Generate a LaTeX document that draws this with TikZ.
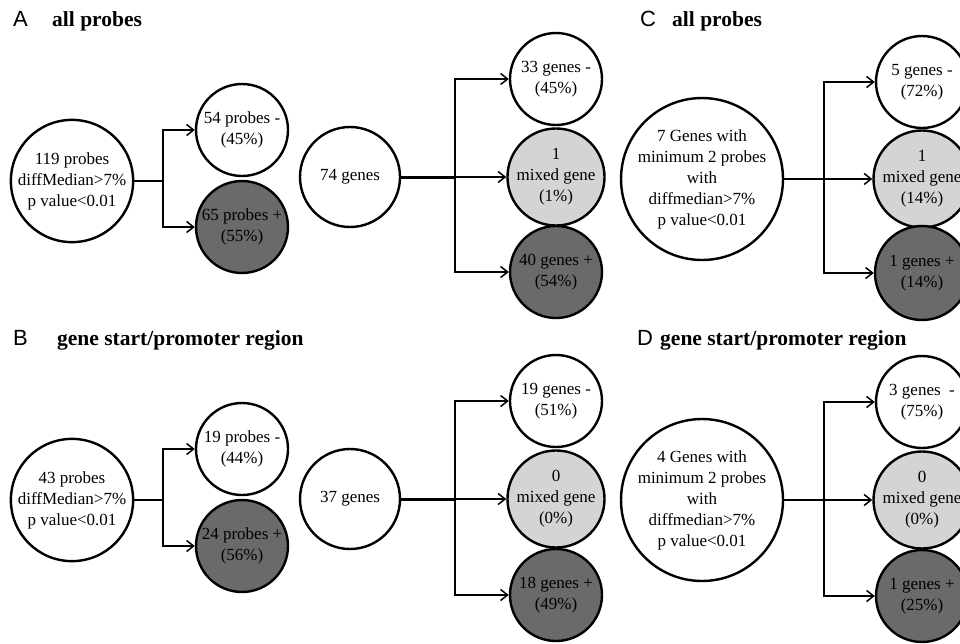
\documentclass[tikz,border=0pt]{standalone}
\usepackage{fontspec}
\setmainfont{Liberation Serif}
\newfontfamily\labfont{Liberation Sans}
\usetikzlibrary{arrows.meta}
\definecolor{darkfill}{RGB}{106,106,106}
\definecolor{lightfill}{RGB}{212,212,212}
\begin{document}
\begin{tikzpicture}[x=1pt,y=-1pt,
 bub/.style={circle,draw=black,line width=2.4pt,inner sep=0pt,align=center,font=\fontsize{17}{21}\selectfont},
 negbub/.style={bub,fill=white,minimum size=92pt},
 mixbub/.style={bub,fill=lightfill,minimum size=92pt},
 posbub/.style={bub,fill=darkfill,minimum size=92pt},
 conn/.style={line width=1.5pt},
 thickconn/.style={line width=3pt},
 arr/.style={line width=1.5pt,-{Straight Barb[length=7pt,width=11pt]}},
 panel/.style={font=\labfont\fontsize{22}{26}\selectfont,anchor=base west,inner sep=0pt},
 ttl/.style={font=\fontsize{21.5}{26}\selectfont\bfseries,anchor=base west,inner sep=0pt}]
\useasboundingbox (0,0) rectangle (960,643);

% ---------- Panel A ----------
\node[panel] (LA) at (13,26) {A};
\node[ttl] (TA) at (52,26) {all probes};
\node[bub,fill=white,minimum size=113pt] (a0) at (72,181) {119 probes\\diffMedian>7\%\\p value<0.01};
\node[negbub] (a1) at (242,130) {54 probes -\\(45\%)};
\node[posbub] (a2) at (242,227) {65 probes +\\(55\%)};
\coordinate (ja) at (163,181);
\draw[conn] (a0) -- (ja);
\draw[arr] (ja) |- (a1);
\draw[arr] (ja) |- (a2);

\node[bub,fill=white,minimum size=100pt] (g0) at (350,177) {74 genes};
\node[negbub] (g1) at (556,79) {33 genes -\\(45\%)};
\node[mixbub] (g2) at (556,177) {1\\mixed gene\\(1\%)};
\node[posbub] (g3) at (556,272) {40 genes +\\(54\%)};
\coordinate (jg) at (455,177);
\draw[thickconn] (g0) -- (jg);
\draw[arr] (jg) |- (g1);
\draw[arr] (jg) -- (g2);
\draw[arr] (jg) |- (g3);

% ---------- Panel C ----------
\node[panel] (LC) at (640,26) {C};
\node[ttl] (TC) at (672,26) {all probes};
\node[bub,fill=white,minimum size=138pt] (c0) at (702,179) {7 Genes with\\minimum 2 probes\\with\\diffmedian>7\%\\p value<0.01};
\node[negbub] (c1) at (922,82) {5 genes -\\(72\%)};
\node[mixbub] (c2) at (922,179) {1\\mixed gene\\(14\%)};
\node[posbub,minimum size=94pt] (c3) at (922,273) {1 genes +\\(14\%)};
\coordinate (jc) at (824,179);
\draw[thickconn,line width=2pt] (c0) -- (jc);
\draw[arr] (jc) |- (c1);
\draw[arr] (jc) -- (c2);
\draw[arr] (jc) |- (c3);

% ---------- Panel B ----------
\node[panel] (LB) at (13,345) {B};
\node[ttl] (TB) at (57,345) {gene start/promoter region};
\node[bub,fill=white,minimum size=113pt] (b0) at (72,500) {43 probes\\diffMedian>7\%\\p value<0.01};
\node[negbub] (b1) at (242,449) {19 probes -\\(44\%)};
\node[posbub] (b2) at (242,546) {24 probes +\\(56\%)};
\coordinate (jb) at (163,500);
\draw[conn] (b0) -- (jb);
\draw[arr] (jb) |- (b1);
\draw[arr] (jb) |- (b2);

\node[bub,fill=white,minimum size=100pt] (h0) at (350,499) {37 genes};
\node[negbub] (h1) at (556,401) {19 genes -\\(51\%)};
\node[mixbub] (h2) at (556,499) {0\\mixed gene\\(0\%)};
\node[posbub] (h3) at (556,595) {18 genes +\\(49\%)};
\coordinate (jh) at (455,499);
\draw[thickconn] (h0) -- (jh);
\draw[arr] (jh) |- (h1);
\draw[arr] (jh) -- (h2);
\draw[arr] (jh) |- (h3);

% ---------- Panel D ----------
\node[panel] (LD) at (637,345) {D};
\node[ttl] (TD) at (660,345) {gene start/promoter region};
\node[bub,fill=white,minimum size=138pt] (d0) at (702,500) {4 Genes with\\minimum 2 probes\\with\\diffmedian>7\%\\p value<0.01};
\node[negbub] (d1) at (922,402) {3 genes\ \ -\\(75\%)};
\node[mixbub] (d2) at (922,500) {0\\mixed gene\\(0\%)};
\node[posbub] (d3) at (922,596) {1 genes +\\(25\%)};
\coordinate (jd) at (824,500);
\draw[thickconn,line width=2pt] (d0) -- (jd);
\draw[arr] (jd) |- (d1);
\draw[arr] (jd) -- (d2);
\draw[arr] (jd) |- (d3);
\end{tikzpicture}
\end{document}
